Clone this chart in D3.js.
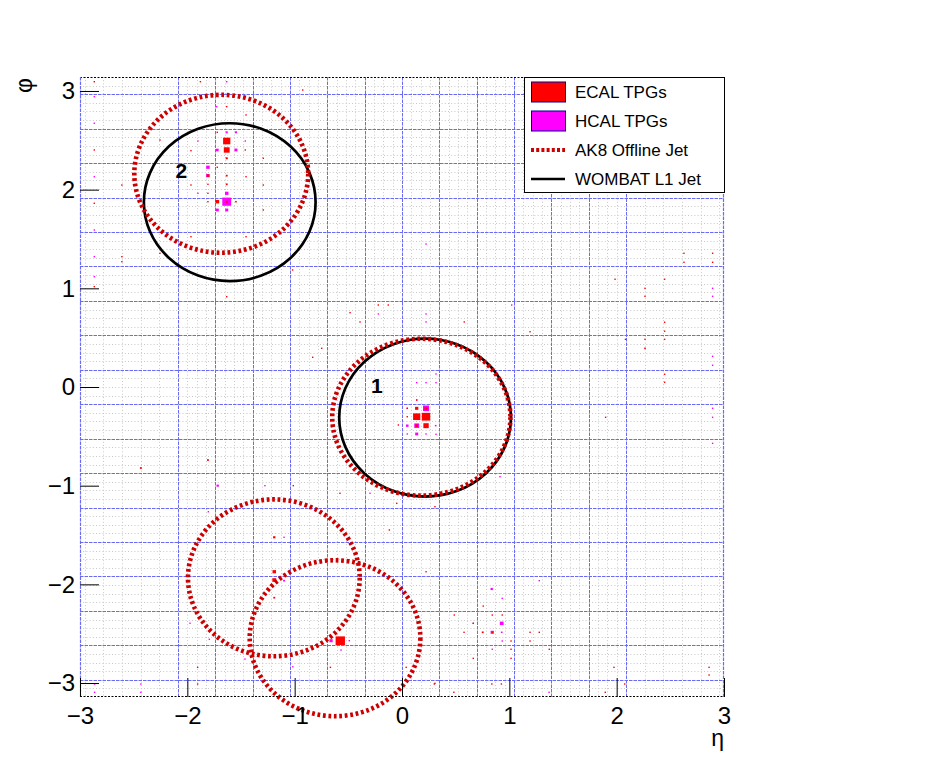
<!DOCTYPE html>
<html><head><meta charset="utf-8">
<script src="https://cdn.jsdelivr.net/npm/d3@7/dist/d3.min.js"></script>
<style>body{margin:0;background:#fff}</style>
</head><body>
<svg id="c" width="948" height="775" xmlns="http://www.w3.org/2000/svg"></svg>
<script>
// ---------------- DATA ----------------
const etaDomain = [-3, 3];
const phiDomain = [-Math.PI, Math.PI];
const xTickValues = [-3, -2, -1, 0, 1, 2, 3];
const yTickValues = [-3, -2, -1, 0, 1, 2, 3];
const xTitle = "η";
const yTitle = "φ";
const legendLabels = ["ECAL TPGs", "HCAL TPGs", "AK8 Offline Jet", "WOMBAT L1 Jet"];

// ECAL trigger primitives: [eta, phi, Et]
const ecalTPGs = [
  [-1.633, 2.493, 31], [-1.633, 2.402, 25], [-1.633, 2.318, 9], [-1.808, 2.142, 11],
  [-1.633, 2.142, 8], [-1.633, 2.054, 8], [-1.808, 2.054, 6], [-1.808, 1.963, 6],
  [-1.721, 1.878, 16], [-1.633, 1.878, 9], [-1.547, 1.878, 7], [-1.808, 1.878, 6],
  [-1.721, 2.227, 5], [-1.460, 2.402, 5], [-1.721, 2.581, 5],
  [0.137, -0.301, 31], [0.224, -0.301, 36], [0.137, -0.216, 14], [0.224, -0.216, 13],
  [0.137, -0.392, 11], [0.224, -0.392, 23], [0.049, -0.301, 6], [0.049, -0.216, 5],
  [0.137, -0.132, 5], [-0.034, -0.385, 5],
  [-0.221, 0.831, 5], [-0.128, 0.831, 5], [0.580, 0.659, 5], [-0.484, 0.753, 5],
  [-0.391, 0.659, 5], [1.193, 0.560, 5], [-0.748, 0.392, 5], [-0.832, 0.301, 5],
  [-0.655, -0.402, 5], [-0.049, -1.179, 5], [-0.578, -1.077, 5], [0.307, -1.213, 5],
  [-0.575, -2.571, 40], [-1.190, -1.872, 15], [-1.190, -1.956, 17], [-1.190, -1.523, 10],
  [-1.190, -2.135, 8],
  [0.757, -2.220, 5], [0.487, -2.311, 5], [0.841, -2.311, 5], [0.934, -2.311, 5],
  [0.664, -2.395, 5], [0.578, -2.486, 5], [0.752, -2.486, 8], [0.841, -2.486, 6],
  [1.016, -2.574, 5], [1.193, -2.486, 5], [1.279, -2.486, 5], [1.193, -2.574, 5],
  [1.016, -2.658, 5], [1.016, -2.750, 5], [0.664, -2.750, 5], [1.372, -2.658, 5],
  [-2.433, -0.821, 8], [-1.808, -0.740, 8], [-1.013, -1.000, 5], [-0.118, -1.449, 5],
  [0.224, -1.872, 5], [0.307, -3.003, 5],
  [-2.867, 3.094, 5], [-2.867, 2.402, 5], [-2.867, 1.862, 5], [-2.867, 1.017, 5],
  [-2.610, 2.047, 5], [-2.610, 1.321, 5], [-2.610, 1.270, 5], [-2.255, 2.503, 5],
  [-2.255, 1.355, 5], [-1.878, 3.094, 5], [-1.966, 2.395, 5], [-1.966, 2.047, 5],
  [-1.966, 1.523, 5], [-1.633, 2.841, 5], [-1.453, 2.757, 5], [-1.453, 2.131, 5],
  [-1.453, 1.523, 5], [-1.292, 2.318, 5], [-1.292, 2.047, 5], [-1.292, 1.794, 5],
  [-1.019, 1.186, 5], [-0.925, 3.010, 5], [-1.633, 0.915, 5],
  [2.627, 1.355, 5], [2.894, 1.355, 5], [2.627, 1.264, 5], [2.894, 1.264, 5],
  [1.985, 1.092, 5], [2.447, 1.092, 5], [2.264, 1.000, 5], [2.264, 0.919, 5],
  [2.447, 0.656, 5], [2.447, 0.565, 5], [2.082, 0.483, 5], [2.264, 0.483, 5],
  [2.447, 0.483, 5], [2.264, 0.392, 7], [2.447, 0.129, 5], [2.447, 0.048, 5],
  [1.897, -0.307, 5],
  [-1.904, -2.841, 5], [-0.667, -2.841, 5], [0.039, -2.841, 5], [1.975, -2.841, 5],
  [2.861, -2.841, 5], [2.861, -2.919, 5], [-1.904, -3.010, 5], [0.301, -3.010, 5],
  [0.837, -3.010, 5], [0.926, -3.010, 5], [2.075, -3.010, 5], [0.483, -3.094, 5],
  [1.894, -3.094, 5]
];

// HCAL trigger primitives: [eta, phi, Et]
const hcalTPGs = [
  [-1.633, 2.581, 9], [-1.547, 2.581, 9], [-1.721, 2.402, 12], [-1.547, 2.402, 13],
  [-1.808, 2.227, 15], [-1.808, 2.142, 15], [-1.633, 1.963, 15], [-1.633, 1.878, 38],
  [-1.721, 1.794, 13], [-1.633, 1.794, 13], [-1.901, 2.493, 5], [-1.901, 1.963, 5],
  [-1.460, 2.493, 5],
  [0.224, -0.216, 26], [0.137, -0.392, 21], [0.049, -0.392, 11], [0.137, -0.476, 13],
  [0.224, -0.476, 6], [0.314, -0.392, 7], [0.049, -0.476, 5],
  [0.224, 0.740, 5], [-0.220, 0.740, 5], [0.224, 0.659, 5], [0.317, 0.132, 5],
  [0.137, 0.044, 5], [0.224, 0.044, 5], [0.317, 0.044, 5], [0.137, -0.132, 5],
  [0.049, -0.216, 5], [0.317, -0.479, 5], [0.913, -0.909, 5], [-0.298, -1.077, 5],
  [1.022, 0.831, 5], [0.224, 1.449, 5],
  [-0.661, -2.571, 14], [-0.491, -2.571, 6], [-0.568, -2.666, 6], [-1.099, -1.963, 8],
  [-1.099, -1.523, 5], [0.836, -2.047, 10], [1.279, -1.963, 5], [0.934, -2.142, 6],
  [0.929, -2.395, 16], [0.664, -2.395, 6], [0.841, -2.486, 14], [0.929, -2.486, 7],
  [0.934, -2.574, 6], [0.841, -2.658, 5],
  [-1.717, -1.000, 10], [-1.804, -1.264, 6], [-1.975, -2.394, 5], [-1.795, -2.557, 5],
  [-1.463, -2.757, 5], [-1.277, -1.000, 5],
  [-2.867, 2.942, 5], [-2.867, 2.673, 5], [-2.867, 2.131, 5], [-2.867, 1.591, 5],
  [-2.867, 1.321, 5], [-2.867, 1.118, 5], [-1.633, 3.094, 5], [-1.726, 2.841, 5],
  [2.894, 1.000, 5], [2.894, 0.919, 5], [2.894, 0.311, 5], [2.894, 0.220, 5],
  [2.894, -0.216, 5], [2.894, -0.307, 5], [2.894, -0.571, 5],
  [-1.017, -2.835, 5], [-2.864, -3.010, 5], [-2.433, -3.010, 5], [-2.864, -3.094, 5],
  [-2.433, -3.094, 5], [1.370, -3.094, 5]
];
const etMax = 40;

// AK8 offline jets: [eta, phi, radius in eta, radius in phi]
const ak8Jets = [
  [-1.684, 2.161, 0.81, 0.80],
  [0.180, -0.306, 0.83, 0.795],
  [-1.194, -1.934, 0.80, 0.795],
  [-0.624, -2.546, 0.795, 0.79]
];
// WOMBAT L1 jets: [eta, phi, radius, label]
const l1Jets = [
  [0.215, -0.310, 0.8, "1"],
  [-1.605, 1.873, 0.8, "2"]
];

// calorimeter geometry (grid)
const towerEta = 0.087;
const regionEta = 0.348;
const towerPhi = Math.PI / 36;

// ---------------- DRAW ----------------
const svg = d3.select("#c");
svg.append("rect").attr("width", 948).attr("height", 775).attr("fill", "#fff");
const font = "'Liberation Sans', Arial, Helvetica, sans-serif";

const x = d3.scaleLinear().domain(etaDomain).range([80, 724]);
const y = d3.scaleLinear().domain(phiDomain).range([697, 77]);

const grid = svg.append("g");
const fineEta = [];
for (let k = -24; k <= 24; k++) if (k % 4 !== 0) fineEta.push(k * towerEta);
for (let m = 1; m <= 5; m++) { fineEta.push(24 * towerEta + m * 2 * towerEta); fineEta.push(-(24 * towerEta + m * 2 * towerEta)); }
const finePhi = [];
for (let k = -35; k <= 35; k++) if (!(Math.abs(k) % 4 === 2)) finePhi.push(k * towerPhi);

const gray = "#c8c8c8";
grid.selectAll("line.fx").data(fineEta).join("line")
  .attr("x1", d => Math.round(x(d)) + 0.5).attr("x2", d => Math.round(x(d)) + 0.5).attr("y1", y(phiDomain[1])).attr("y2", y(phiDomain[0]))
  .attr("stroke", gray).attr("stroke-width", 1).attr("stroke-dasharray", "1,2.2");
grid.selectAll("line.fy").data(finePhi).join("line")
  .attr("y1", d => Math.round(y(d)) + 0.5).attr("y2", d => Math.round(y(d)) + 0.5).attr("x1", x(-3)).attr("x2", x(3))
  .attr("stroke", gray).attr("stroke-width", 1).attr("stroke-dasharray", "1,2.2");

const blue = "#6a6af2";
const regEta = d3.range(-6, 7).map(k => k * regionEta);
const regPhi = d3.range(-17, 18, 2).map(k => k * Math.PI / 18);
grid.selectAll("line.rx").data(regEta).join("line")
  .attr("x1", d => Math.round(x(d)) + 0.5).attr("x2", d => Math.round(x(d)) + 0.5).attr("y1", y(phiDomain[1])).attr("y2", y(phiDomain[0]))
  .attr("stroke", blue).attr("stroke-width", 1).attr("stroke-dasharray", "3.5,1");
grid.selectAll("line.ry").data(regPhi).join("line")
  .attr("y1", d => Math.round(y(d)) + 0.5).attr("y2", d => Math.round(y(d)) + 0.5).attr("x1", x(-3)).attr("x2", x(3))
  .attr("stroke", blue).attr("stroke-width", 1).attr("stroke-dasharray", "3.5,1");

// TPG boxes
const cellW = x(towerEta) - x(0);
const cellH = y(0) - y(towerPhi);
const frac = d3.scaleLinear().domain([0, etMax]).range([0, 1]);
function drawBoxes(data, color) {
  svg.append("g").selectAll("rect").data(data).join("rect")
    .attr("x", d => x(d[0]) - Math.max(1.4, frac(d[2]) * cellW) / 2)
    .attr("y", d => y(d[1]) - Math.max(1.4, frac(d[2]) * cellH) / 2)
    .attr("width", d => Math.max(1.4, frac(d[2]) * cellW))
    .attr("height", d => Math.max(1.4, frac(d[2]) * cellH))
    .attr("fill", color);
}
drawBoxes(hcalTPGs, "#ff00ff");
drawBoxes(ecalTPGs, "#ff0000");

// L1 jets (black)
svg.append("g").selectAll("ellipse").data(l1Jets).join("ellipse")
  .attr("cx", d => x(d[0])).attr("cy", d => y(d[1]))
  .attr("rx", d => x(d[0] + d[2]) - x(d[0])).attr("ry", d => y(d[1]) - y(d[1] + d[2]))
  .attr("fill", "none").attr("stroke", "#000").attr("stroke-width", 2.7);
svg.append("g").selectAll("text").data(l1Jets).join("text")
  .attr("x", d => x(d[0] - 0.45)).attr("y", d => y(d[1] + 0.25))
  .attr("text-anchor", "middle").attr("font-family", font).attr("font-weight", "bold")
  .attr("font-size", 21).text(d => d[3]);

// AK8 jets (red dotted)
svg.append("g").selectAll("ellipse").data(ak8Jets).join("ellipse")
  .attr("cx", d => x(d[0])).attr("cy", d => y(d[1]))
  .attr("rx", d => x(d[0] + d[2]) - x(d[0])).attr("ry", d => y(d[1]) - y(d[1] + d[3]))
  .attr("fill", "none").attr("stroke", "#cc0000").attr("stroke-width", 4.6)
  .attr("stroke-dasharray", "2.8,2.7");

// frame
const fr = svg.append("g");
fr.append("line").attr("x1", 80).attr("x2", 724).attr("y1", 77.5).attr("y2", 77.5)
  .attr("stroke", "#000").attr("stroke-dasharray", "2,1.5");
fr.append("line").attr("x1", 80).attr("x2", 724).attr("y1", 696.5).attr("y2", 696.5)
  .attr("stroke", "#000").attr("stroke-dasharray", "2,1.5");
[80.5, 723.5].forEach(v => fr.append("line").attr("x1", v).attr("x2", v).attr("y1", 77).attr("y2", 697)
  .attr("stroke", blue).attr("stroke-width", 1.2).attr("stroke-dasharray", "3.5,1"));

// axes
const fmt = d3.format("d");
const minorX = d3.range(-15, 16).map(k => k / 5).filter(v => Math.abs(v - Math.round(v)) > 1e-6);
const minorY = minorX;
const gx = svg.append("g").attr("transform", "translate(0,697)");
gx.call(d3.axisBottom(x).tickValues(minorX).tickSize(-9.5).tickFormat(""));
gx.call(d3.axisBottom(x).tickValues(xTickValues).tickSize(-19).tickPadding(10).tickFormat(fmt));
gx.selectAll("path.domain").remove();
gx.selectAll("text").attr("font-family", font).attr("font-size", 24).attr("fill", "#000");
const gy = svg.append("g").attr("transform", "translate(80,0)");
gy.call(d3.axisLeft(y).tickValues(minorY).tickSize(-9.5).tickFormat(""));
gy.call(d3.axisLeft(y).tickValues(yTickValues).tickSize(-19).tickPadding(5).tickFormat(fmt));
gy.selectAll("path.domain").remove();
gy.selectAll("text").attr("font-family", font).attr("font-size", 24).attr("fill", "#000");
svg.selectAll(".tick line").attr("stroke", "#000").attr("stroke-width", 1);

// titles
svg.append("text").attr("x", 724).attr("y", 746).attr("text-anchor", "end")
  .attr("font-family", font).attr("font-size", 23).text(xTitle);
svg.append("text").attr("transform", "translate(32,78) rotate(-90)").attr("text-anchor", "end")
  .attr("font-family", font).attr("font-size", 23).text(yTitle);

// legend
const lg = svg.append("g");
lg.append("rect").attr("x", 524.5).attr("y", 77.5).attr("width", 200).attr("height", 115)
  .attr("fill", "#fff").attr("stroke", "#000");
legendLabels.forEach((lab, i) => {
  const cy = 92 + i * 29;
  if (i < 2) {
    lg.append("rect").attr("x", 531.5).attr("y", cy - 10).attr("width", 34).attr("height", 20)
      .attr("fill", i === 0 ? "#ff0000" : "#ff00ff").attr("stroke", "#000099");
  } else if (i === 2) {
    lg.append("line").attr("x1", 531).attr("x2", 565).attr("y1", cy).attr("y2", cy)
      .attr("stroke", "#cc0000").attr("stroke-width", 4.2).attr("stroke-dasharray", "3,2.2");
  } else {
    lg.append("line").attr("x1", 531).attr("x2", 565).attr("y1", cy).attr("y2", cy)
      .attr("stroke", "#000").attr("stroke-width", 2.6);
  }
  lg.append("text").attr("x", 575).attr("y", cy + 6.2).attr("font-family", font)
    .attr("font-size", 17).text(lab);
});
</script>
</body></html>
